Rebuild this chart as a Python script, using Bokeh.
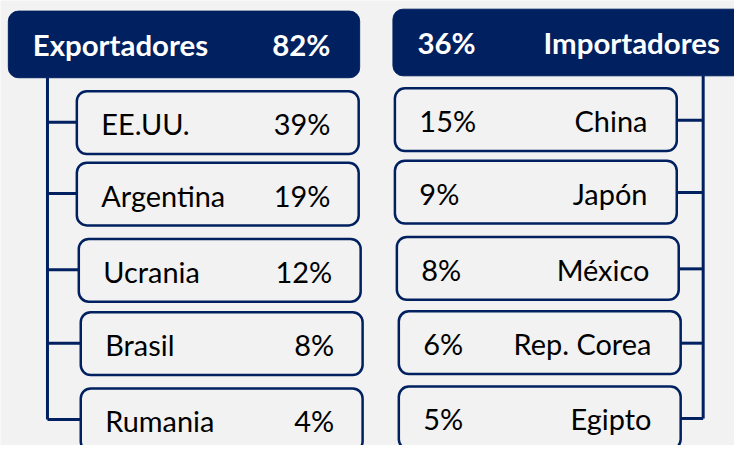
from bokeh.plotting import figure
from bokeh.models import Range1d, ColumnDataSource
from bokeh.core.properties import value
from bokeh.embed import file_html
from bokeh.resources import INLINE

# ---- data ----
exp_title = "Exportadores"
exp_total = "82%"
imp_title = "Importadores"
imp_total = "36%"
exporters = ["EE.UU.", "Argentina", "Ucrania", "Brasil", "Rumania"]
exp_share = [39, 19, 12, 8, 4]
importers = ["China", "Japón", "México", "Rep. Corea", "Egipto"]
imp_share = [15, 9, 8, 6, 5]

# ---- layout (reference pixel space) ----
NAVY = "#002060"
BG = "#f2f2f2"
FONT = value("Lato")
S = 734 / 750
BODY_FS = f"{29.5 * S:.1f}px"
HEAD_FS = f"{30 * S:.1f}px"
BOX_H = 65
exp_left = [78, 78, 80, 82, 82]
exp_top = [94, 168, 247, 323, 402]
BOX_W = 288
imp_left = [403, 403, 405, 407, 407]
imp_top = [91, 166, 245, 322, 400]

p = figure(width=734, height=445, x_range=Range1d(0, 750), y_range=Range1d(461, 0),
           output_backend="svg", toolbar_location=None, min_border=0,
           background_fill_color=BG, border_fill_color=BG, outline_line_color=None)
p.axis.visible = False
p.grid.visible = False

# connectors
exp_mid = [t + 32 for t in exp_top]
imp_mid = [t + 33 for t in imp_top]
p.segment(x0=[48], y0=[80], x1=[48], y1=[exp_mid[-1]], line_color=NAVY, line_width=3)
p.segment(x0=[48] * 5, y0=exp_mid, x1=exp_left, y1=exp_mid, line_color=NAVY, line_width=3)
p.segment(x0=[718], y0=[78], x1=[718], y1=[imp_mid[-1]], line_color=NAVY, line_width=3)
p.segment(x0=[l + BOX_W for l in imp_left], y0=imp_mid, x1=[718] * 5, y1=imp_mid,
          line_color=NAVY, line_width=3)

# headers
p.quad(left=[8, 401], right=[367, 770], top=[11, 9], bottom=[80, 78],
       fill_color=NAVY, line_color=NAVY, border_radius=10)

# boxes
exp_src = ColumnDataSource(dict(
    left=exp_left, right=[l + BOX_W for l in exp_left], top=exp_top,
    bottom=[t + BOX_H for t in exp_top], name=exporters,
    pct=[f"{v}%" for v in exp_share],
    nx=[l + 25 for l in exp_left], px=[l + BOX_W - 29 for l in exp_left],
    ty=[t + BOX_H / 2 + 1 for t in exp_top]))
imp_src = ColumnDataSource(dict(
    left=imp_left, right=[l + BOX_W for l in imp_left], top=imp_top,
    bottom=[t + BOX_H for t in imp_top], name=importers,
    pct=[f"{v}%" for v in imp_share],
    px=[l + 25 for l in imp_left], nx=[l + BOX_W - 30 for l in imp_left],
    ty=[t + BOX_H / 2 + 1 for t in imp_top]))
for src in (exp_src, imp_src):
    p.quad(left="left", right="right", top="top", bottom="bottom", source=src,
           fill_color=BG, line_color=NAVY, line_width=2.5, border_radius=10)

p.text(x="nx", y="ty", text="name", source=exp_src, text_font=FONT, text_font_size=BODY_FS,
       text_align="left", text_baseline="middle", text_color="black")
p.text(x="px", y="ty", text="pct", source=exp_src, text_font=FONT, text_font_size=BODY_FS,
       text_align="right", text_baseline="middle", text_color="black")
p.text(x="px", y="ty", text="pct", source=imp_src, text_font=FONT, text_font_size=BODY_FS,
       text_align="left", text_baseline="middle", text_color="black")
p.text(x="nx", y="ty", text="name", source=imp_src, text_font=FONT, text_font_size=BODY_FS,
       text_align="right", text_baseline="middle", text_color="black")

# header texts
p.text(x=[33], y=[46], text=[exp_title], text_font=FONT, text_font_size=HEAD_FS,
       text_font_style="bold", text_color="white", text_align="left", text_baseline="middle")
p.text(x=[337], y=[46], text=[exp_total], text_font=FONT, text_font_size=HEAD_FS,
       text_font_style="bold", text_color="white", text_align="right", text_baseline="middle")
p.text(x=[426], y=[44], text=[imp_total], text_font=FONT, text_font_size=HEAD_FS,
       text_font_style="bold", text_color="white", text_align="left", text_baseline="middle")
p.text(x=[735], y=[44], text=[imp_title], text_font=FONT, text_font_size=HEAD_FS,
       text_font_style="bold", text_color="white", text_align="right", text_baseline="middle")

open("out.html", "w").write(file_html(p, INLINE))
